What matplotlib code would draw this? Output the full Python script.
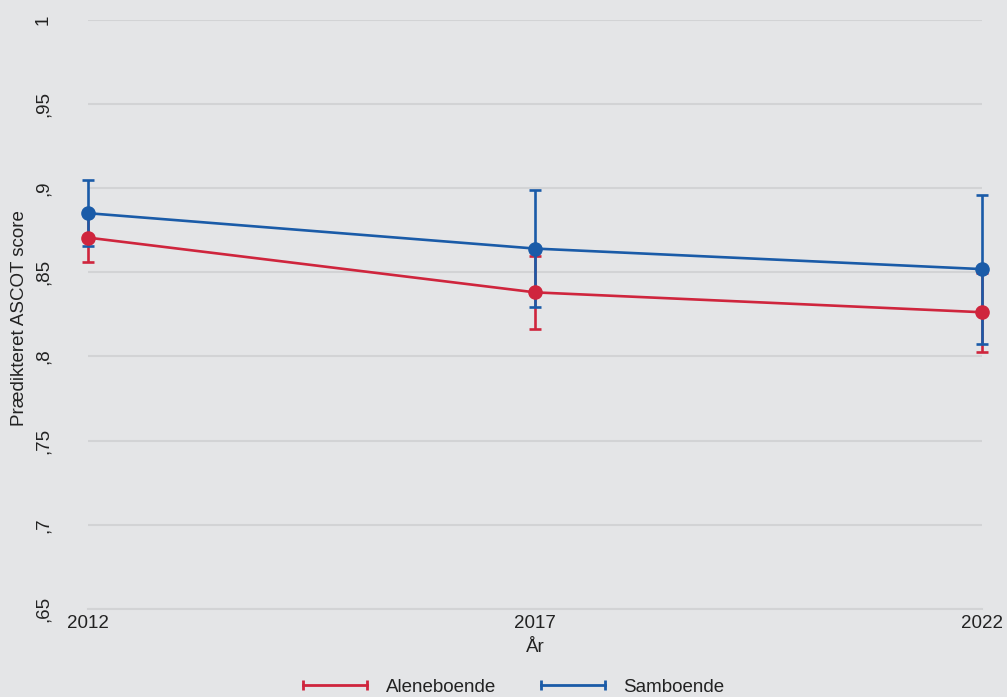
import matplotlib
matplotlib.use("Agg")
import matplotlib.pyplot as plt
from matplotlib.lines import Line2D

# Predicted ASCOT scores by survey year, with confidence limits
years = [2012, 2017, 2022]
alene_mean = [0.8705, 0.8380, 0.8262]
alene_lo = [0.8563, 0.8163, 0.8025]
alene_hi = [0.8847, 0.8598, 0.8497]
sambo_mean = [0.8850, 0.8640, 0.8518]
sambo_lo = [0.8655, 0.8291, 0.8076]
sambo_hi = [0.9046, 0.8990, 0.8957]

ytick_vals = [0.65, 0.70, 0.75, 0.80, 0.85, 0.90, 0.95, 1.00]
ytick_labels = [",65", ",7", ",75", ",8", ",85", ",9", ",95", "1"]
series_names = ["Aleneboende", "Samboende"]

RED = "#cf253d"
BLUE = "#1a5ba8"
BG = "#e4e5e7"
GRID = "#d2d3d5"
TXT = "#222222"
FS = 13.5

plt.rcParams["font.family"] = ["Liberation Sans", "DejaVu Sans"]

W, H = 1007, 697
fig = plt.figure(figsize=(W / 100, H / 100), dpi=100, facecolor=BG)
left, right, top, bottom = 88, 982, 19.5, 609
ax = fig.add_axes([left / W, 1 - bottom / H, (right - left) / W, (bottom - top) / H])
ax.set_facecolor(BG)

for mean, lo, hi, col in [(alene_mean, alene_lo, alene_hi, RED),
                          (sambo_mean, sambo_lo, sambo_hi, BLUE)]:
    err = [[m - l for m, l in zip(mean, lo)], [h - m for m, h in zip(mean, hi)]]
    ax.errorbar(years, mean, yerr=err, fmt="none", ecolor=col, elinewidth=1.9,
                capsize=4.3, capthick=1.9, clip_on=False, zorder=3)

for mean, col in [(alene_mean, RED), (sambo_mean, BLUE)]:
    ax.plot(years, mean, color=col, lw=1.9, marker="o", markersize=9.5,
            clip_on=False, zorder=4)

ax.set_xlim(2012, 2022)
ax.set_ylim(0.65, 1.0)
ax.set_xticks(years)
ax.set_xticklabels([str(y) for y in years], fontsize=FS, color=TXT)
ax.set_yticks(ytick_vals)
ax.set_yticklabels(ytick_labels, fontsize=FS, rotation=90, va="center",
                   color=TXT)
ax.tick_params(axis="x", length=0, pad=4)
ax.tick_params(axis="y", length=0, pad=26)
ax.grid(axis="y", color=GRID, lw=1.5)
ax.set_axisbelow(True)
for s in ["left", "right", "top"]:
    ax.spines[s].set_visible(False)
ax.spines["bottom"].set_color(GRID)
ax.spines["bottom"].set_linewidth(1.5)

fig.text(20 / W, 1 - 318 / H, "Prædikteret ASCOT score", rotation=90,
         ha="center", va="center", fontsize=FS, color=TXT)
fig.text(535 / W, 1 - 647 / H, "År", ha="center", va="center", fontsize=FS,
         color=TXT)

handles = [Line2D([], [], color=c, lw=2, marker="|", markersize=7,
                  markeredgewidth=2) for c in (RED, BLUE)]
fig.legend(handles, series_names, loc="center", ncol=2, numpoints=2,
           bbox_to_anchor=(511 / W, 1 - 687 / H), frameon=False, fontsize=FS,
           handlelength=4.0, handletextpad=0.7, columnspacing=2.1,
           labelcolor=TXT)

fig.savefig("out.png", dpi=100, facecolor=BG)
